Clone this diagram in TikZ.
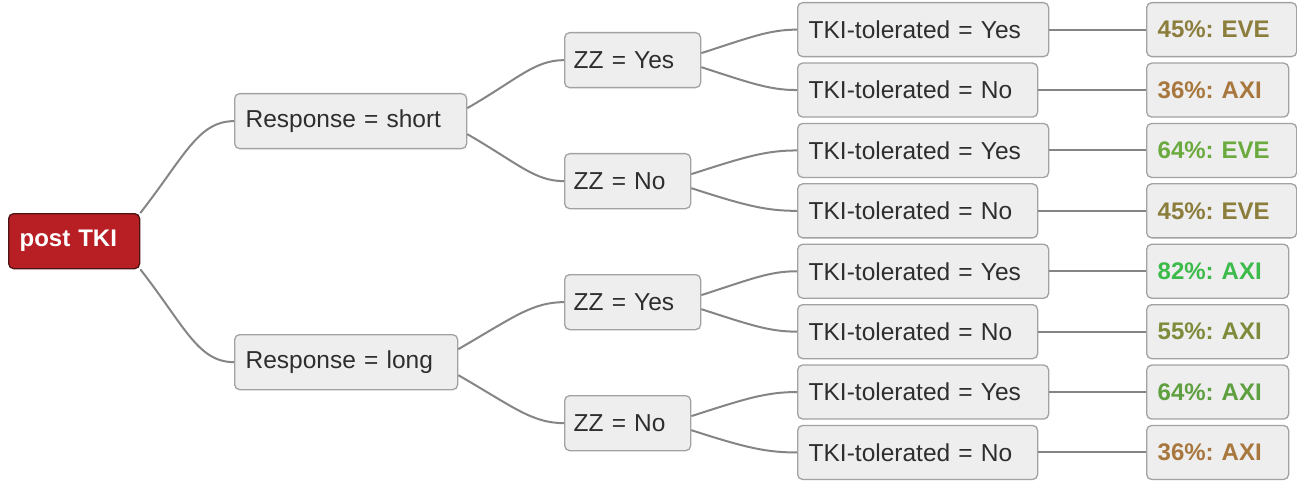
\documentclass[tikz,border=0pt]{standalone}
\usepackage{fontspec}
\setmainfont{Liberation Sans}
\frenchspacing
\definecolor{boxfill}{HTML}{EEEEEE}
\definecolor{boxline}{HTML}{A2A2A2}
\definecolor{linecol}{HTML}{858585}
\definecolor{textcol}{HTML}{2E2E2E}
\definecolor{rootfill}{HTML}{B81F24}
\definecolor{rootline}{HTML}{4E1414}
\definecolor{cEVEa}{HTML}{8B7D3C}
\definecolor{cAXIa}{HTML}{A8773E}
\definecolor{cEVEb}{HTML}{6BAA3F}
\definecolor{cAXIb}{HTML}{3DBB4A}
\definecolor{cAXIc}{HTML}{7D8C3A}
\definecolor{cAXId}{HTML}{5E9F3F}
\tikzset{
  box/.style={draw=boxline, line width=1.3pt, fill=boxfill, rounded corners=5pt,
    anchor=north west, minimum height=54pt, inner xsep=11pt, inner ysep=0pt,
    align=left, font=\fontsize{24.5}{28}\selectfont, text=textcol},
  leafbox/.style={box, font=\bfseries\fontsize{24}{28}\selectfont},
  rootbox/.style={box, draw=rootline, fill=rootfill, text=white, minimum height=55pt,
    font=\bfseries\fontsize{24}{28}\selectfont},
  conn/.style={draw=linecol, line width=2pt},
  up/.style={out=#1, in=180, out looseness=1.4, in looseness=0.7},
  down/.style={out=-#1, in=180, out looseness=1.4, in looseness=0.7},
}
\begin{document}
\begin{tikzpicture}[x=1pt,y=1pt]
\path[use as bounding box] (0,0) rectangle (1297,-481);
% root and level 1
\node[rootbox, text width=109pt] (root) at (8,-213) {post TKI};
\node[box, minimum height=55pt, text width=210pt] (rs) at (234,-93) {Response = short};
\node[box, minimum height=55pt, text width=201pt] (rl) at (234,-334) {Response = long};
% level 2
\node[box, minimum height=55pt, inner xsep=9pt, text width=118pt] (z1) at (564,-32) {ZZ = Yes};
\node[box, minimum height=55pt, inner xsep=9pt, text width=108pt] (z2) at (564,-153) {ZZ = No};
\node[box, minimum height=55pt, inner xsep=9pt, text width=118pt] (z3) at (564,-274) {ZZ = Yes};
\node[box, minimum height=55pt, inner xsep=9pt, text width=108pt] (z4) at (564,-395) {ZZ = No};
% level 3
\node[box, text width=229pt] (t1) at (797,-2) {TKI-tolerated = Yes};
\node[box, text width=218pt] (t2) at (797,-62.4) {TKI-tolerated = No};
\node[box, text width=229pt] (t3) at (797,-122.8) {TKI-tolerated = Yes};
\node[box, text width=218pt] (t4) at (797,-183.2) {TKI-tolerated = No};
\node[box, text width=229pt] (t5) at (797,-243.6) {TKI-tolerated = Yes};
\node[box, text width=218pt] (t6) at (797,-304) {TKI-tolerated = No};
\node[box, text width=229pt] (t7) at (797,-364.4) {TKI-tolerated = Yes};
\node[box, text width=218pt] (t8) at (797,-424.8) {TKI-tolerated = No};
% leaves
\node[leafbox, text=cEVEa, text width=128pt] (l1) at (1146,-2) {45\%: EVE};
\node[leafbox, text=cAXIa, text width=120pt] (l2) at (1146,-62.4) {36\%: AXI};
\node[leafbox, text=cEVEb, text width=128pt] (l3) at (1146,-122.8) {64\%: EVE};
\node[leafbox, text=cEVEa, text width=128pt] (l4) at (1146,-183.2) {45\%: EVE};
\node[leafbox, text=cAXIb, text width=120pt] (l5) at (1146,-243.6) {82\%: AXI};
\node[leafbox, text=cAXIc, text width=120pt] (l6) at (1146,-304) {55\%: AXI};
\node[leafbox, text=cAXId, text width=120pt] (l7) at (1146,-364.4) {64\%: AXI};
\node[leafbox, text=cAXIa, text width=120pt] (l8) at (1146,-424.8) {36\%: AXI};
% connectors
\draw[conn] (root.north east) to[up=52] (rs.west);
\draw[conn] (root.south east) to[down=52] (rl.west);
\draw[conn] ([yshift=13pt]rs.east) to[up=30] (z1.west);
\draw[conn] ([yshift=-13pt]rs.east) to[down=30] (z2.west);
\draw[conn] ([yshift=13pt]rl.east) to[up=30] (z3.west);
\draw[conn] ([yshift=-13pt]rl.east) to[down=30] (z4.west);
\draw[conn] ([yshift=7pt]z1.east) to[up=18] (t1.west);
\draw[conn] ([yshift=-7pt]z1.east) to[down=18] (t2.west);
\draw[conn] ([yshift=7pt]z2.east) to[up=18] (t3.west);
\draw[conn] ([yshift=-7pt]z2.east) to[down=18] (t4.west);
\draw[conn] ([yshift=7pt]z3.east) to[up=18] (t5.west);
\draw[conn] ([yshift=-7pt]z3.east) to[down=18] (t6.west);
\draw[conn] ([yshift=7pt]z4.east) to[up=18] (t7.west);
\draw[conn] ([yshift=-7pt]z4.east) to[down=18] (t8.west);
\draw[conn] (t1.east) -- (l1.west);
\draw[conn] (t2.east) -- (l2.west);
\draw[conn] (t3.east) -- (l3.west);
\draw[conn] (t4.east) -- (l4.west);
\draw[conn] (t5.east) -- (l5.west);
\draw[conn] (t6.east) -- (l6.west);
\draw[conn] (t7.east) -- (l7.west);
\draw[conn] (t8.east) -- (l8.west);
\end{tikzpicture}
\end{document}
